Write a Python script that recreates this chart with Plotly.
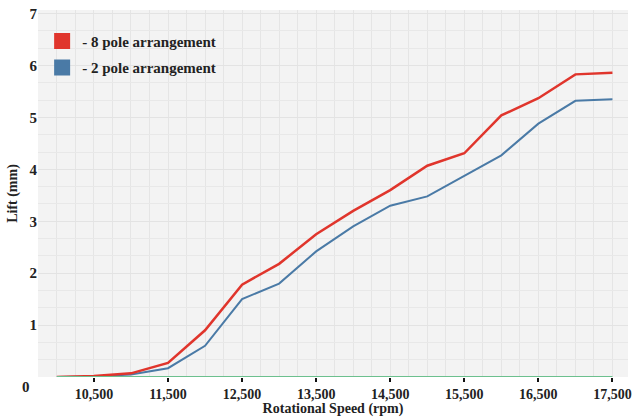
import plotly.graph_objects as go

speed = [10000, 10500, 11000, 11500, 12000, 12500, 13000, 13500, 14000, 14500,
         15000, 15500, 16000, 16500, 17000, 17500]
lift_8pole = [0.0, 0.02, 0.07, 0.27, 0.90, 1.78, 2.18, 2.75, 3.20, 3.60,
              4.07, 4.31, 5.04, 5.37, 5.83, 5.86]
lift_2pole = [0.0, 0.01, 0.05, 0.17, 0.60, 1.50, 1.80, 2.42, 2.90, 3.30,
              3.48, 3.87, 4.27, 4.88, 5.32, 5.35]
baseline = [0.0] * len(speed)
x_ticks = [10500, 11500, 12500, 13500, 14500, 15500, 16500, 17500]
x_tick_text = ["10,500", "11,500", "12,500", "13,500", "14,500", "15,500", "16,500", "17,500"]
y_ticks = [1, 2, 3, 4, 5, 6, 7]

RED = "#e0352c"
BLUE = "#4a7aa6"
GREEN = "#6cc08e"
FONT = "Liberation Serif"
TXT = "#222"

fig = go.Figure()
fig.add_trace(go.Scatter(x=speed, y=lift_2pole, mode="lines",
                         line=dict(color=BLUE, width=2), showlegend=False))
fig.add_trace(go.Scatter(x=speed, y=lift_8pole, mode="lines",
                         line=dict(color=RED, width=2.5), showlegend=False))
fig.add_trace(go.Scatter(x=speed, y=baseline, mode="lines",
                         line=dict(color=GREEN, width=2), showlegend=False))
fig.add_trace(go.Scatter(x=[None], y=[None], mode="markers", name="- 8 pole arrangement",
                         legendgroup="a",
                         marker=dict(symbol="square", size=18, color=RED)))
fig.add_trace(go.Scatter(x=[None], y=[None], mode="markers", name="- 2 pole arrangement",
                         legendgroup="b",
                         marker=dict(symbol="square", size=18, color=BLUE)))

fig.update_layout(
    width=635, height=417,
    margin=dict(l=38, r=3, t=10, b=40),
    paper_bgcolor="white",
    plot_bgcolor="#f3f3f3",
    font=dict(family=FONT, color=TXT, size=14),
    legend=dict(x=0.007, y=0.96, xanchor="left", yanchor="top",
                bgcolor="rgba(0,0,0,0)", traceorder="grouped",
                font=dict(family=FONT, size=15, color=TXT, weight="bold"),
                tracegroupgap=4, itemsizing="trace"),
    xaxis=dict(range=[9745, 17710], tickvals=x_ticks, ticktext=x_tick_text,
               showgrid=False, zeroline=False, showline=False,
               ticks="outside", ticklen=4, tickwidth=2, tickcolor="#111",
               ticklabeloverflow="allow",
               tickfont=dict(family=FONT, size=14, color=TXT, weight="bold"),
               title=dict(text="Rotational Speed (rpm)", standoff=0,
                          font=dict(family=FONT, size=14, color=TXT, weight="bold")),
               minor=dict(dtick=250, showgrid=True, gridcolor="#e5e5e5", gridwidth=1)),
    yaxis=dict(range=[0, 7.07], tickvals=y_ticks,
               showgrid=True, gridcolor="#e3e3e3", gridwidth=1,
               zeroline=False, showline=False, ticks="",
               tickfont=dict(family=FONT, size=15, color=TXT, weight="bold"),
               title=dict(text="Lift (mm)", standoff=8,
                          font=dict(family=FONT, size=14, color=TXT, weight="bold")),
               minor=dict(dtick=1/3, showgrid=True, gridcolor="#e8e8e8", gridwidth=1)),
)
fig.add_annotation(x=0, y=0, xref="paper", yref="y", xanchor="right", yanchor="middle",
                   xshift=-6, yshift=-10, text="0", showarrow=False,
                   font=dict(family=FONT, size=15, color=TXT, weight="bold"))
fig.write_html("out.html")
